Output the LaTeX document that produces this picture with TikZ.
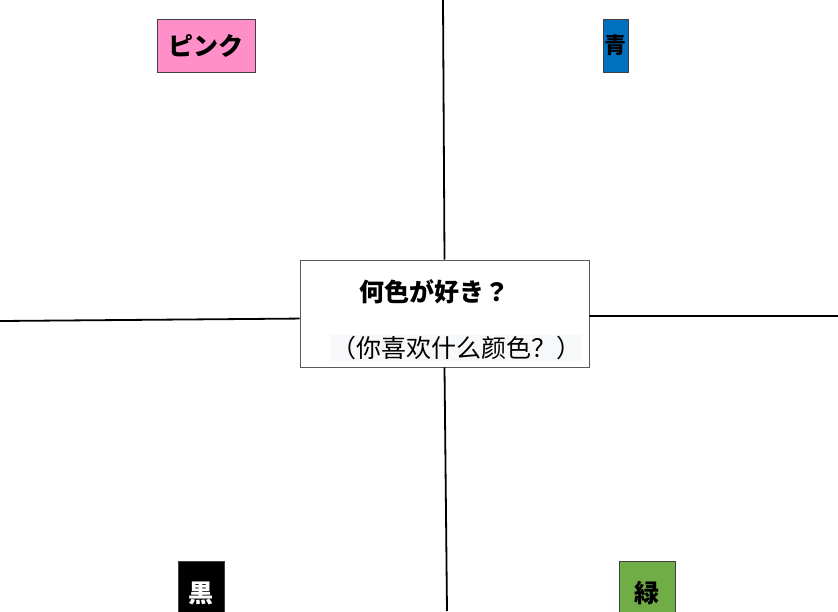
\documentclass[tikz,border=0pt]{standalone}
\usepackage{fontspec}
\usepackage{xcolor}
\newfontfamily\jp{Noto Sans CJK JP}
\newfontfamily\zh{Noto Sans CJK SC}
\definecolor{pinkc}{HTML}{FF8FC8}
\definecolor{bluec}{HTML}{0070C0}
\definecolor{greenc}{HTML}{70AD47}
\definecolor{textbg}{HTML}{F7F8FA}

\begin{document}
\begin{tikzpicture}[x=1pt,y=1pt,
    colorbox/.style={draw=black!75, line width=0.8pt, inner sep=0pt, font=\jp\bfseries\fontsize{25}{25}\selectfont},
    axis/.style={line width=1.8pt, black}]
            \useasboundingbox (0,0) rectangle (838,-611);

            % center question
            \node[draw=black!65, line width=0.8pt, fill=white, minimum width=289, minimum height=107, inner sep=0pt] (q) at (444.5,-313.5) {};
            \node[font=\jp\bfseries\fontsize{25}{25}\selectfont] (jaq) at (434,-292) {何色が好き？};
            \node[fill=textbg, inner sep=1pt, font=\zh\fontsize{25}{25}\selectfont] (zhq) at (456,-348) {（你喜欢什么颜色？）};

            % axes
            \coordinate (top) at (443,0);
            \coordinate (bottom) at (447,-611);
            \coordinate (left) at (0,-321);
            \coordinate (right) at (838,-316);
            \draw[axis] (top) -- (q.north);
            \draw[axis] (q.south) -- (bottom);
            \draw[axis] (left) -- (q.182);
            \draw[axis] (q.-1.4) -- (right);

            % colours
            \node[colorbox, fill=pinkc, minimum width=98, minimum height=53] (pink) at (206,-45.5) {ピンク};
            \node[colorbox, fill=bluec, minimum width=25, minimum height=53, font=\jp\bfseries\fontsize{22}{22}\selectfont] (blue) at (615.5,-45.5) {青};
            \node[colorbox, fill=black, text=white, minimum width=46, minimum height=64] (black) at (201,-593) {黒};
            \node[colorbox, fill=greenc, minimum width=56, minimum height=64] (green) at (647,-593) {緑};
        \end{tikzpicture}
\end{document}
